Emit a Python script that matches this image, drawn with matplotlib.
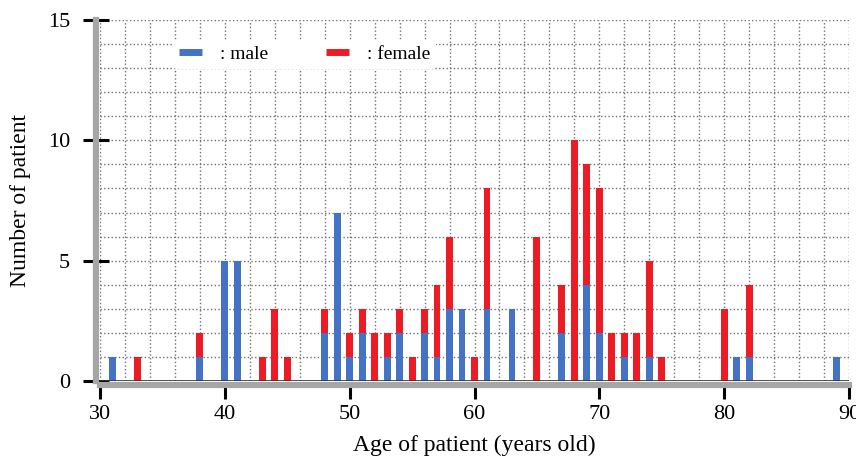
import numpy as np
import matplotlib
matplotlib.use("Agg")
import matplotlib.pyplot as plt
from matplotlib.ticker import MultipleLocator
from matplotlib.lines import Line2D

plt.rcParams["font.family"] = ["Liberation Serif", "DejaVu Serif"]

# patients per age, split by sex
ages = [31, 33, 38, 40, 41, 43, 44, 45, 48, 49, 50, 51, 52, 53, 54, 55, 56, 57, 58,
        59, 60, 61, 63, 65, 67, 68, 69, 70, 71, 72, 73, 74, 75, 80, 81, 82, 89]
male = [1, 0, 1, 5, 5, 0, 0, 0, 2, 7, 1, 2, 0, 1, 2, 0, 2, 1, 3,
        3, 0, 3, 3, 0, 2, 0, 4, 2, 0, 1, 0, 1, 0, 0, 1, 1, 1]
female = [0, 1, 1, 0, 0, 1, 3, 1, 1, 0, 1, 1, 2, 1, 1, 1, 1, 3, 3,
          0, 1, 5, 0, 6, 2, 10, 5, 6, 2, 1, 2, 4, 1, 3, 0, 3, 0]
x_ticks = [30, 40, 50, 60, 70, 80, 90]
y_ticks = [0, 5, 10, 15]

BLUE = "#4472C4"
RED = "#ED1C24"
GRAY = "#a6a6a6"

fig = plt.figure(figsize=(8.56, 4.59), dpi=100)
ax = fig.add_axes([100 / 856, 78 / 459, 749 / 856, 361 / 459])

male = np.array(male)
female = np.array(female)
ax.bar(ages, male, width=0.55, color=BLUE, zorder=3)
ax.bar(ages, female, width=0.55, bottom=male, color=RED, zorder=3)

ax.set_xlim(30, 90)
ax.set_ylim(0, 15)
ax.set_xticks(x_ticks)
ax.set_yticks(y_ticks)
ax.xaxis.set_minor_locator(MultipleLocator(2))
ax.yaxis.set_minor_locator(MultipleLocator(1))
ax.grid(which="both", linestyle=":", color="#707070", linewidth=1.0, zorder=0)
ax.tick_params(which="minor", length=0)

ax.tick_params(axis="y", which="major", direction="inout", length=19, width=2.2,
               color="black", labelsize=16, pad=9)
ax.tick_params(axis="x", which="major", direction="out", length=10, width=2.2,
               color="black", labelsize=16, pad=4)

for side in ("top", "right"):
    ax.spines[side].set_visible(False)
for side in ("left", "bottom"):
    ax.spines[side].set_color(GRAY)
    ax.spines[side].set_linewidth(4.5)
    ax.spines[side].set_position(("outward", 3))
ax.axhline(0, color="#333333", linewidth=1.2, zorder=4)

ax.set_xlabel("Age of patient (years old)", fontsize=17, labelpad=8)
ax.set_ylabel("Number of patient", fontsize=17, labelpad=12)

handles = [Line2D([], [], color=BLUE, linewidth=5, solid_capstyle="butt"),
           Line2D([], [], color=RED, linewidth=5, solid_capstyle="butt")]
ax.legend(handles, [": male", ": female"], ncol=2, loc="center",
          bbox_to_anchor=(0.273, 0.905), frameon=True, facecolor="white",
          edgecolor="none", framealpha=1, fontsize=14, handlelength=1.2,
          handletextpad=0.9, columnspacing=3.0, borderpad=0.3)

plt.savefig("out.png", dpi=100)
plt.close()
